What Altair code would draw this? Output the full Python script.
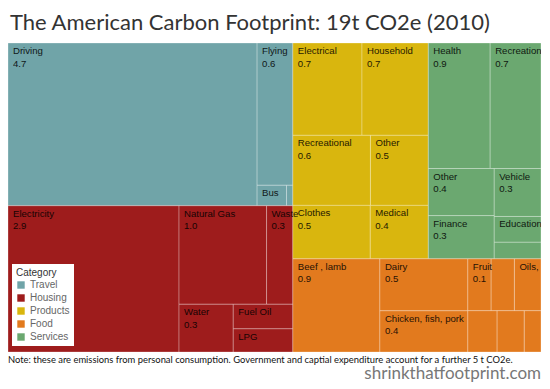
import altair as alt
import pandas as pd

# ---- data ----
categories = ["Travel", "Housing", "Products", "Food", "Services"]
category_colors = ["#70a4a8", "#9e1c1c", "#d9b60e", "#e27a1e", "#6ba870"]

item_names = [
    "Driving", "Flying", "Bus", "Rail",
    "Electricity", "Natural Gas", "Waste", "Water", "Fuel Oil", "LPG",
    "Electrical", "Household", "Recreational", "Other", "Clothes", "Medical",
    "Health", "Recreation", "Other", "Vehicle", "Finance", "Education", "Misc",
    "Beef , lamb", "Dairy", "Chicken, fish, pork", "Fruit", "Vegetables", "Oils,",
    "Cereals", "Snacks", "Drinks",
]
item_groups = (["Travel"] * 4 + ["Housing"] * 6 + ["Products"] * 6
               + ["Services"] * 7 + ["Food"] * 9)
item_values = [
    4.7, 0.59, 0.07, 0.015,
    2.9, 1.0, 0.3, 0.3, 0.17, 0.16,
    0.74, 0.71, 0.63, 0.47, 0.48, 0.36,
    0.9, 0.74, 0.36, 0.26, 0.33, 0.14, 0.09,
    0.94, 0.53, 0.42, 0.14, 0.14, 0.16, 0.14, 0.13, 0.08,
]
shown_names = [
    "Driving", "Flying", "Bus", "",
    "Electricity", "Natural Gas", "Waste", "Water", "Fuel Oil", "LPG",
    "Electrical", "Household", "Recreational", "Other", "Clothes", "Medical",
    "Health", "Recreation", "Other", "Vehicle", "Finance", "Education", "",
    "Beef , lamb", "Dairy", "Chicken, fish, pork", "Fruit", "", "Oils,",
    "", "", "",
]
value_labels = [
    "4.7", "0.6", "", "",
    "2.9", "1.0", "0.3", "0.3", "", "",
    "0.7", "0.7", "0.6", "0.5", "0.5", "0.4",
    "0.9", "0.7", "0.4", "0.3", "0.3", "", "",
    "0.9", "0.5", "0.4", "0.1", "", "", "", "", "",
]

title_text = "The American Carbon Footprint: 19t CO2e (2010)"
note_text = ("Note: these are emissions from personal consumption.  Government and "
             "captial expenditure account for a further 5 t CO2e.")
footer_text = "shrinkthatfootprint.com"

# nesting of the treemap: "h" = side by side, "v" = stacked; leaves are item indices
travel = ("h", [0, ("v", [1, ("h", [2, 3])])])
housing = ("h", [4, ("v", [("h", [5, 6]), ("h", [7, ("v", [8, 9])])])])
products = ("v", [("h", [10, 11]), ("h", [12, 13]), ("h", [14, 15])])
services = ("v", [("h", [16, 17]), ("h", [("v", [18, 20]), ("v", [19, 21, 22])])])
food = ("h", [23, ("v", [24, 25]), ("v", [("h", [26, 27, 28]), ("h", [29, 30, 31])])])
tree = ("h", [("v", [travel, housing]), ("v", [("h", [products, services]), food])])


def weight(node):
    if isinstance(node, int):
        return item_values[node]
    return sum(weight(c) for c in node[1])


def layout(node, x0, y0, x1, y1, out):
    if isinstance(node, int):
        out[node] = (x0, y0, x1, y1)
        return
    orient, children = node
    total = weight(node)
    pos = x0 if orient == "h" else y0
    for c in children:
        frac = weight(c) / total
        if orient == "h":
            w = (x1 - x0) * frac
            layout(c, pos, y0, pos + w, y1, out)
            pos += w
        else:
            h = (y1 - y0) * frac
            layout(c, x0, pos, x1, pos + h, out)
            pos += h


cells = {}
layout(tree, 0.0, 0.0, 1.0, 1.0, cells)

rows = []
for i, name in enumerate(item_names):
    x0, y0, x1, y1 = cells[i]
    label = shown_names[i] + ("\n" + value_labels[i] if value_labels[i] else "")
    rows.append(dict(name=name, group=item_groups[i], value=item_values[i],
                     x0=x0, x1=x1, y0=y0, y1=y1, label=label))
df = pd.DataFrame(rows)

W, H = 533, 309

xs = alt.Scale(domain=[0, 1], nice=False, zero=False)
ys = alt.Scale(domain=[0, 1], nice=False, zero=False, reverse=True)

base = alt.Chart(df)

rects = base.mark_rect(stroke="white", strokeOpacity=0.35, strokeWidth=0.8).encode(
    x=alt.X("x0:Q", scale=xs, axis=None),
    x2="x1:Q",
    y=alt.Y("y0:Q", scale=ys, axis=None),
    y2="y1:Q",
    color=alt.Color(
        "group:N",
        scale=alt.Scale(domain=categories, range=category_colors),
        legend=alt.Legend(
            title="Category", orient="none", legendX=4, legendY=221,
            fillColor="white", padding=4, titleFontSize=10, titleFontWeight="normal",
            titleColor="#333", titleFont="Liberation Sans", labelFont="Liberation Sans",
            labelFontSize=10, labelColor="#666", symbolType="square", symbolSize=55,
            symbolStrokeWidth=0, rowPadding=3, titlePadding=2,
        ),
    ),
    tooltip=["name:N", "group:N", "value:Q"],
)

labels = base.mark_text(
    align="left", baseline="top", dx=5, dy=3, lineBreak="\n", lineHeight=12.5,
    font="Liberation Sans", fontSize=9.6, color="black", opacity=0.85,
).encode(
    x=alt.X("x0:Q", scale=xs),
    y=alt.Y("y0:Q", scale=ys),
    text="label:N",
)

title = alt.Chart(pd.DataFrame({"t": [title_text]})).mark_text(
    align="left", baseline="alphabetic", font="Lato", fontSize=22, color="#333",
).encode(x=alt.value(2), y=alt.value(-13), text="t:N")

note = alt.Chart(pd.DataFrame({"t": [note_text]})).mark_text(
    align="left", baseline="alphabetic", font="Lato", fontSize=9.4, color="#111",
).encode(x=alt.value(0), y=alt.value(H + 11), text="t:N")

footer = alt.Chart(pd.DataFrame({"t": [footer_text]})).mark_text(
    align="right", baseline="alphabetic", font="Lato", fontSize=17, color="#777",
).encode(x=alt.value(W), y=alt.value(H + 27), text="t:N")

chart = alt.layer(rects, labels, title, note, footer).properties(
    width=W, height=H,
    autosize=alt.AutoSizeParams(type="none"),
    padding={"left": 0, "top": 35, "right": 0, "bottom": 32},
).configure_view(stroke=None)

chart.save("out.html", embed_options={"renderer": "svg", "actions": False})
